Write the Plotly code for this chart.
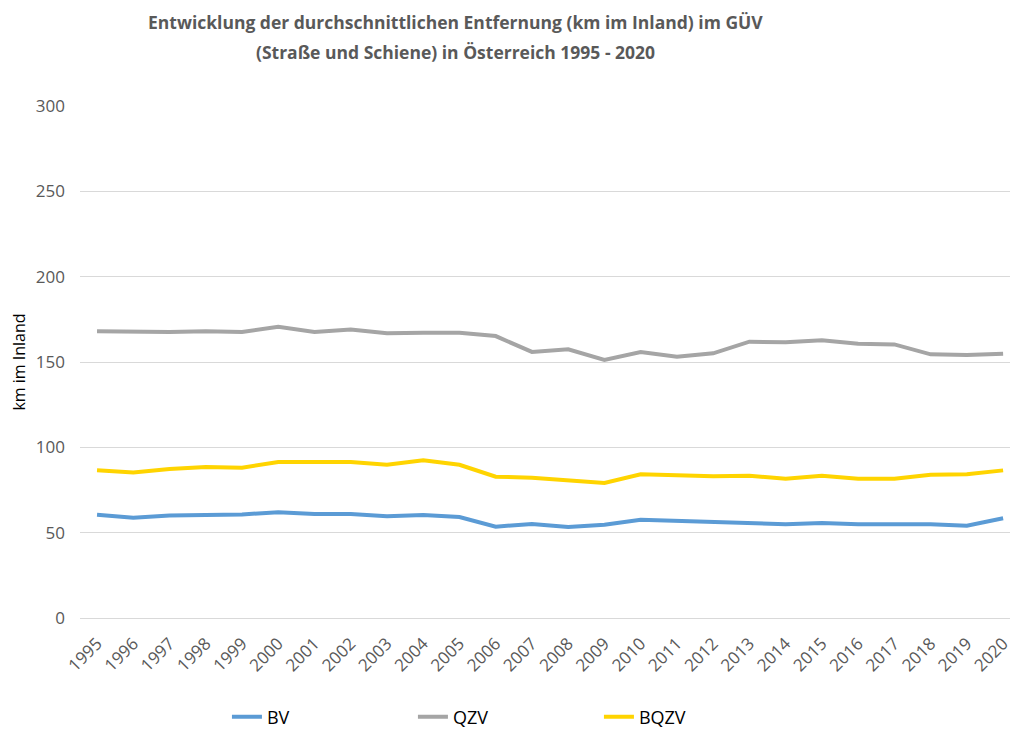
import plotly.graph_objects as go

years = [str(y) for y in range(1995, 2021)]

bv = [60.5, 58.8, 60.0, 60.4, 60.7, 61.9, 60.9, 60.9, 59.6, 60.4, 59.2, 53.5, 55.1,
      53.3, 54.7, 57.6, 57.0, 56.6, 55.9, 54.9, 55.7, 54.9, 54.9, 54.9, 54.1, 58.4]
qzv = [168.0, 167.6, 167.6, 168.0, 167.6, 170.7, 167.6, 169.1, 166.8, 167.2, 167.2, 165.2, 155.9,
       157.4, 151.2, 155.9, 153.1, 155.1, 161.9, 161.5, 162.7, 160.7, 160.3, 154.5, 154.1, 154.9]
bqzv = [86.5, 85.3, 87.3, 88.5, 88.1, 91.4, 91.4, 91.4, 89.8, 92.4, 89.8, 82.8, 82.2,
        80.5, 79.1, 84.2, 83.6, 83.0, 83.4, 81.6, 83.4, 81.6, 81.6, 84.0, 84.2, 86.5]

title_lines = [
    "Entwicklung der durchschnittlichen Entfernung (km im Inland) im GÜV",
    "(Straße und Schiene) in Österreich 1995 - 2020",
]

series = [("BV", bv, "#5B9BD5"), ("QZV", qzv, "#A5A5A5"), ("BQZV", bqzv, "#FFD400")]

fig = go.Figure()
for name, vals, color in series:
    fig.add_trace(go.Scatter(
        x=years, y=vals, name=name, mode="lines",
        line=dict(color=color, width=4),
    ))

# two-line title, each line placed separately for spacing control
for i, line in enumerate(title_lines):
    fig.add_annotation(
        text=f"<b>{line}</b>", xref="paper", yref="paper",
        x=(455 - 80) / 930, y=1 + (106 - 22 - 30 * i) / 512,
        xanchor="center", yanchor="middle", showarrow=False,
        font=dict(size=17.5, color="#595959"),
    )

fig.update_layout(
    width=1010, height=729,
    margin=dict(l=80, r=0, t=106, b=111, autoexpand=False),
    paper_bgcolor="white", plot_bgcolor="white",
    font=dict(family="Open Sans, Liberation Sans, sans-serif", color="#595959"),
    xaxis=dict(
        type="category", range=[-0.47, 25.19], automargin=False,
        tickangle=-45, tickfont=dict(size=17, color="#595959"),
        showgrid=False, showline=True, linecolor="#D9D9D9", linewidth=1,
        ticks="", ticklabelstandoff=8,
    ),
    yaxis=dict(
        range=[0, 300], dtick=50, automargin=False,
        gridcolor="#D9D9D9", gridwidth=1, zeroline=False,
        tickfont=dict(size=17, color="#595959"), ticks="", ticklabelstandoff=14,
        title=dict(text="km im Inland", font=dict(size=16, color="#000000"), standoff=6),
    ),
    legend=dict(
        orientation="h", x=0.158, xanchor="left",
        yref="container", y=(729 - 717) / 729, yanchor="middle",
        entrywidth=141, entrywidthmode="pixels",
        font=dict(size=18, color="#000000"),
    ),
)

fig.write_html("out.html")
